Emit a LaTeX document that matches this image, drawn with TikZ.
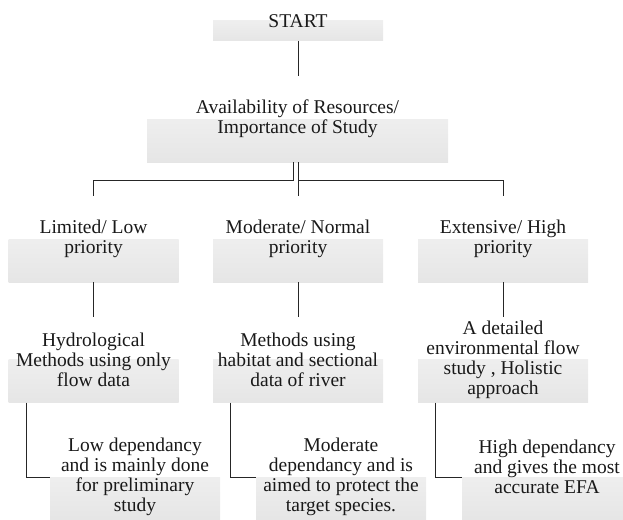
\documentclass[tikz,border=0pt]{standalone}
\usepackage{fontspec}
\setmainfont{Liberation Serif}
\begin{document}
\begin{tikzpicture}[x=1pt,y=-1pt,
  box/.style={minimum width=170pt, minimum height=86pt, inner sep=1pt, outer sep=0pt,
    align=center, fill=white, text=black!90,
    font=\fontsize{19.5}{20}\selectfont,
    path picture={\shade[top color=gray!6, bottom color=gray!20]
      (path picture bounding box.south west) rectangle (path picture bounding box.east);}},
  conn/.style={line width=0.9pt, draw=black!85}]
\useasboundingbox (0,0) rectangle (623,519);
\clip (0,0) rectangle (623,519);
% nodes
\node[box, minimum height=40pt] (start) at (298,21) {START};
\node[box, minimum width=301pt] (avail) at (297.5,119) {Availability of Resources/\\Importance of Study};
\node[box] (low) at (93.5,239) {Limited/ Low\\priority};
\node[box] (mod) at (298,239) {Moderate/ Normal\\priority};
\node[box] (high) at (503,239) {Extensive/ High\\priority};
\node[box] (hyd) at (93.5,359.5) {Hydrological\\Methods using only\\flow data};
\node[box] (hab) at (298,359.5) {Methods using\\habitat and sectional\\data of river};
\node[box] (hol) at (503,359.5) {A detailed\\environmental flow\\study , Holistic\\approach};
\node[box] (lowdep) at (135,477) {Low dependancy\\and is mainly done\\for preliminary\\study};
\node[box] (moddep) at (341,477) {Moderate\\dependancy and is\\aimed to protect the\\target species.};
\node[box] (highdep) at (547,477) {High dependancy\\and gives the most\\accurate EFA\\\mbox{}};
% connectors
\draw[conn] (start.south) -- (start.south |- avail.north);
\draw[conn] ([xshift=-4pt]avail.south) -- ++(0,18) -| (low.north);
\draw[conn] (avail.south -| mod.north) -- (mod.north);
\draw[conn] (avail.south -| mod.north) ++(0,18) -| (high.north);
\draw[conn] (low) -- (hyd);
\draw[conn] (mod) -- (hab);
\draw[conn] (high) -- (hol);
\draw[conn] ([xshift=17.5pt]hyd.south west) |- (lowdep.west);
\draw[conn] ([xshift=17.5pt]hab.south west) |- (moddep.west);
\draw[conn] ([xshift=17.5pt]hol.south west) |- (highdep.west);
\end{tikzpicture}
\end{document}
